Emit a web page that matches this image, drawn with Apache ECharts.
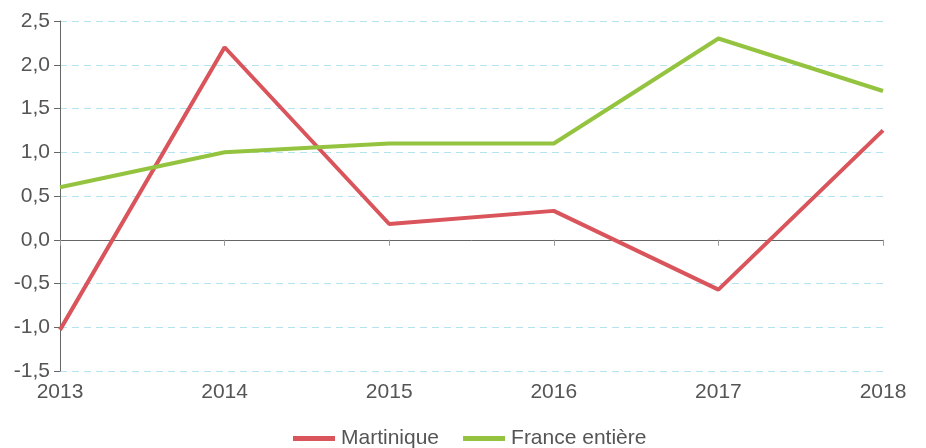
<!DOCTYPE html>
<html><head><meta charset="utf-8">
<script src="https://cdn.jsdelivr.net/npm/echarts@6/dist/echarts.min.js"></script>
<style>html,body{margin:0;padding:0;background:#fff}#c{width:926px;height:448px}</style>
</head><body><div id="c"></div>
<script>
const years = ['2013','2014','2015','2016','2017','2018'];
const martinique = [-1.03, 2.2, 0.18, 0.33, -0.57, 1.25];
const france = [0.6, 1.0, 1.1, 1.1, 2.3, 1.7];
const seriesNames = ['Martinique','France entière'];
const yTicks = {min: -1.5, max: 2.5, interval: 0.5};

const chart = echarts.init(document.getElementById('c'));
const font = '"Liberation Sans", Helvetica, Arial, sans-serif';
chart.setOption({
  animation: false,
  grid: {left: 60, right: 43, top: 21, bottom: 77},
  legend: {
    top: 428, left: 293, padding: 0, itemWidth: 42, itemHeight: 5, itemGap: 24,
    icon: 'rect',
    textStyle: {fontSize: 21, color: '#555', fontFamily: font, padding: [0, 0, 0, 1]},
    data: seriesNames
  },
  xAxis: [{
    type: 'category', data: years, boundaryGap: false,
    axisLine: {onZero: true, lineStyle: {color: '#666', width: 1}},
    axisTick: {show: true, length: 6, lineStyle: {color: '#999'}},
    axisLabel: {show: false}
  }, {
    type: 'category', data: years, boundaryGap: false, position: 'bottom',
    axisLine: {show: false, onZero: false},
    axisTick: {show: false},
    axisLabel: {fontSize: 21, color: '#555', fontFamily: font, margin: 11}
  }],
  yAxis: {
    type: 'value', min: yTicks.min, max: yTicks.max, interval: yTicks.interval,
    axisLine: {show: true, lineStyle: {color: '#666'}},
    axisTick: {show: true, length: 6, lineStyle: {color: '#666'}},
    axisLabel: {fontSize: 21, color: '#555', fontFamily: font, margin: 10,
      formatter: v => v.toFixed(1).replace('.', ',')},
    splitLine: {show: true, lineStyle: {color: '#b5e2ef', type: [7, 5], width: 1}}
  },
  series: [{
    name: seriesNames[0], type: 'line', data: martinique, xAxisIndex: 0,
    symbol: 'none', lineStyle: {width: 4, color: '#d9545b'}, itemStyle: {color: '#d9545b'}
  }, {
    name: seriesNames[1], type: 'line', data: france, xAxisIndex: 0,
    symbol: 'none', lineStyle: {width: 4, color: '#94c43f'}, itemStyle: {color: '#94c43f'}
  }]
});
</script></body></html>
